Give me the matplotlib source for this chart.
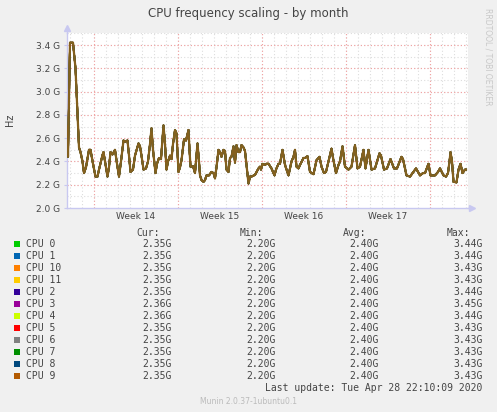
import matplotlib
matplotlib.use("Agg")
import matplotlib.pyplot as plt
from matplotlib.patches import Rectangle

# hours since start of graph, frequency in GHz (all CPUs follow the same curve)
hours = [0, 1, 2, 6, 12, 17, 21, 24, 27, 31, 34, 38, 44, 47, 52, 57, 61, 64, 71, 73,
         76, 81, 84, 87, 91, 96, 100, 104, 108, 113, 116, 121, 124, 127, 132, 136, 143, 146, 149, 153,
         158, 162, 166, 169, 172, 177, 180, 184, 188, 193, 196, 199, 202, 206, 209, 212, 216, 219, 223, 226,
         229, 234, 238, 243, 245, 247, 252, 256, 261, 264, 266, 269, 273, 276, 279, 284, 289, 293, 296, 299,
         303, 306, 309, 313, 316, 319, 323, 326, 329, 333, 336, 339, 343, 346, 349, 353, 356, 359, 363, 366,
         369, 376, 383, 386, 388, 391, 396, 399, 403, 406, 409, 415, 418, 423, 426, 431, 436, 443, 449, 453,
         456, 459, 463, 466, 473, 476, 481, 486, 493, 499, 505, 509, 514, 518, 526, 529, 532, 538, 543, 546,
         551, 556, 563, 569, 576, 581, 586, 593, 597, 603, 609, 616, 625, 628, 634, 640, 647, 654, 660, 669,
         672, 679, 686, 693, 698, 702, 706, 712, 716, 723, 727, 736, 742, 746, 753, 758, 762, 765, 767, 770,
         773, 779, 783, 787, 791, 796, 798]
freq = [2.47, 2.70, 2.44, 3.42, 3.42, 3.20, 2.80, 2.52, 2.48, 2.40, 2.30, 2.35, 2.50, 2.50, 2.38, 2.27, 2.27, 2.33, 2.455, 2.48,
        2.40, 2.27, 2.35, 2.48, 2.46, 2.50, 2.38, 2.27, 2.40, 2.58, 2.57, 2.58, 2.45, 2.31, 2.33, 2.45, 2.555, 2.53, 2.45, 2.33,
        2.34, 2.40, 2.55, 2.685, 2.50, 2.30, 2.38, 2.43, 2.42, 2.71, 2.55, 2.33, 2.40, 2.45, 2.42, 2.55, 2.67, 2.64, 2.31, 2.35,
        2.41, 2.59, 2.58, 2.67, 2.50, 2.355, 2.36, 2.30, 2.555, 2.40, 2.28, 2.24, 2.225, 2.24, 2.28, 2.28, 2.31, 2.30, 2.255, 2.35,
        2.50, 2.48, 2.44, 2.50, 2.49, 2.33, 2.31, 2.43, 2.44, 2.53, 2.39, 2.54, 2.48, 2.48, 2.54, 2.52, 2.49, 2.37, 2.21, 2.27,
        2.27, 2.285, 2.34, 2.355, 2.33, 2.38, 2.37, 2.38, 2.38, 2.36, 2.34, 2.28, 2.33, 2.38, 2.38, 2.50, 2.37, 2.28, 2.40, 2.44,
        2.50, 2.355, 2.34, 2.37, 2.43, 2.43, 2.445, 2.31, 2.29, 2.41, 2.44, 2.355, 2.30, 2.31, 2.455, 2.51, 2.43, 2.30, 2.37, 2.40,
        2.53, 2.355, 2.33, 2.355, 2.54, 2.34, 2.355, 2.50, 2.34, 2.50, 2.33, 2.34, 2.47, 2.45, 2.33, 2.34, 2.42, 2.34, 2.34, 2.44,
        2.42, 2.28, 2.27, 2.31, 2.34, 2.31, 2.28, 2.30, 2.30, 2.38, 2.28, 2.28, 2.31, 2.34, 2.28, 2.27, 2.30, 2.40, 2.48, 2.40,
        2.225, 2.22, 2.33, 2.38, 2.30, 2.33, 2.33]

cpus = ["CPU 0", "CPU 1", "CPU 10", "CPU 11", "CPU 2", "CPU 3", "CPU 4", "CPU 5", "CPU 6", "CPU 7", "CPU 8", "CPU 9"]
colors = ["#00cc00", "#0066b3", "#ff8000", "#ffcc00", "#330099", "#990099", "#ccff00", "#ff0000",
          "#808080", "#008f00", "#00487d", "#b35a00"]
cur = ["2.35G", "2.35G", "2.35G", "2.35G", "2.35G", "2.36G", "2.36G", "2.35G", "2.35G", "2.35G", "2.35G", "2.35G"]
mins = ["2.20G"] * 12
avgs = ["2.40G"] * 12
maxs = ["3.44G", "3.44G", "3.43G", "3.43G", "3.44G", "3.45G", "3.44G", "3.43G", "3.43G", "3.43G", "3.43G", "3.43G"]

week_labels = ["Week 14", "Week 15", "Week 16", "Week 17"]
y_ticks = [2.0, 2.2, 2.4, 2.6, 2.8, 3.0, 3.2, 3.4]

W, H = 497, 412
fig = plt.figure(figsize=(W / 100, H / 100), dpi=100, facecolor="#f0f0f0")


def fx(x):
    return x / W


def fy(y):
    return 1 - y / H


ax = fig.add_axes([fx(67), fy(208), fx(468) - fx(67), (208 - 33) / H])
ax.set_facecolor("white")
ax.set_xlim(0, 802)
ax.set_ylim(2.0, 2.0 + 175 / 116.4)

# grid: minor every day / 0.1G in gray, major every week / 0.2G in red
for d in range(6, 802, 24):
    ax.axvline(d, color="#dddddd", lw=0.8, ls=(0, (1, 2)), zorder=1)
for i in range(15):
    ax.axhline(2.1 + 0.1 * i, color="#dddddd", lw=0.8, ls=(0, (1, 2)), zorder=1)
for d in range(54, 802, 168):
    ax.axvline(d, color="#f4a0a0", lw=0.8, ls=(0, (1, 2)), zorder=1.5)
for y in y_ticks[1:]:
    ax.axhline(y, color="#f4a0a0", lw=0.8, ls=(0, (1, 2)), zorder=1.5)

for name, c in zip(cpus, colors):
    if name == "CPU 9":
        ax.plot(hours, freq, color="#84601e", lw=1.6, zorder=4, solid_joinstyle="round")
    else:
        ax.plot(hours, freq, color=c, lw=1.2, zorder=3, solid_joinstyle="round")

for s in ["top", "right"]:
    ax.spines[s].set_visible(False)
for s in ["left", "bottom"]:
    ax.spines[s].set_color("#c8c8f0")
    ax.spines[s].set_linewidth(1)
ax.plot([0], [1.03], marker="^", color="#c8c8f0", ms=4, transform=ax.transAxes, clip_on=False)
ax.plot([0, 0], [1.0, 1.03], color="#c8c8f0", lw=1, transform=ax.transAxes, clip_on=False)
ax.plot([1.0, 1.01], [0, 0], color="#c8c8f0", lw=1, transform=ax.transAxes, clip_on=False)
ax.plot([1.01], [0], marker=">", color="#c8c8f0", ms=4, transform=ax.transAxes, clip_on=False)

ax.set_yticks(y_ticks)
ax.set_yticklabels(["%.1f G" % v for v in y_ticks])
ax.set_xticks([138 + 168 * i for i in range(4)])
ax.set_xticklabels(week_labels)
ax.tick_params(axis="both", length=2, color="#c8c8f0", labelsize=6.5, labelcolor="#444444", pad=3)
ax.tick_params(axis="x", length=0, pad=3)

fig.text(fx(248), fy(13), "CPU frequency scaling - by month", ha="center", va="center",
         fontsize=8.5, color="#444444")
fig.text(fx(10), fy(120), "Hz", rotation=90, ha="center", va="center", fontsize=7, color="#444444")
fig.text(fx(488), fy(57), "RRDTOOL / TOBI OETIKER", rotation=270, ha="center", va="center",
         fontsize=5.5, color="#c8c8c8")

mono = dict(family="DejaVu Sans Mono", fontsize=7, color="#444444", va="center")
for label, xr in zip(["Cur:", "Min:", "Avg:", "Max:"], [160, 263.5, 366.5, 470]):
    fig.text(fx(xr), fy(232.7), label, ha="right", **mono)

for i, name in enumerate(cpus):
    y = 244.3 + 12 * i
    fig.patches.append(Rectangle((fx(14), fy(y + 3)), 6 / W, 6 / H, transform=fig.transFigure,
                                 facecolor=colors[i], edgecolor="none"))
    fig.text(fx(26.5), fy(y), name, ha="left", **mono)
    fig.text(fx(171.7), fy(y), cur[i], ha="right", **mono)
    fig.text(fx(276), fy(y), mins[i], ha="right", **mono)
    fig.text(fx(379), fy(y), avgs[i], ha="right", **mono)
    fig.text(fx(482.7), fy(y), maxs[i], ha="right", **mono)

fig.text(fx(482.7), fy(388.3), "Last update: Tue Apr 28 22:10:09 2020", ha="right", **mono)
fig.text(fx(248), fy(401.7), "Munin 2.0.37-1ubuntu0.1", ha="center", va="center",
         fontsize=5.5, color="#bbbbbb")

fig.savefig("out.png", dpi=100, facecolor=fig.get_facecolor())
